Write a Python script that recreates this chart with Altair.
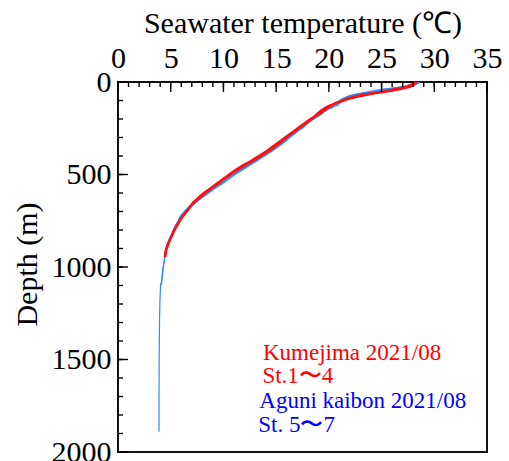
import altair as alt
import pandas as pd

# ---- CTD temperature profiles (depth in m, temperature in degC) ----
red_depth = [0, 10, 25, 40, 50, 62, 75, 90, 100, 115, 125, 140, 150, 175, 200,
             225, 250, 275, 300, 325, 350, 375, 400, 425, 450, 475, 500, 525,
             550, 575, 600, 625, 650, 675, 700, 725, 750, 775, 800, 825, 850,
             875, 900, 925, 945]
kume_st1 = [28.2, 28.1, 27.6, 26.4, 25.6, 24.0, 22.9, 21.8, 21.3, 20.6, 20.2, 19.8,
            19.6, 19.0, 18.3, 17.7, 17.1, 16.5, 15.9, 15.4, 14.8, 14.1, 13.4, 12.7,
            11.9, 11.25, 10.6, 10.0, 9.4, 8.8, 8.2, 7.65, 7.2, 6.85, 6.5, 6.15, 5.85,
            5.6, 5.35, 5.15, 4.95, 4.75, 4.6, 4.5, 4.45]
kume_st2 = [28.4, 28.2, 27.5, 26.0, 25.2, 23.7, 22.6, 21.7, 21.2, 20.7, 20.4, 19.9,
            19.5, 18.9, 18.4, 17.8, 17.2, 16.6, 16.0, 15.5, 14.9, 14.3, 13.6, 12.9,
            12.1, 11.4, 10.7, 10.1, 9.5, 8.9, 8.3, 7.8, 7.3, 6.9, 6.55, 6.2, 5.9,
            5.65, 5.4, 5.2, 5.0, 4.8, 4.65, 4.55, 4.5]
kume_st3 = [28.0, 27.9, 27.4, 26.6, 25.9, 24.4, 23.2, 22.0, 21.5, 20.8, 20.1, 19.6,
            19.7, 19.1, 18.2, 17.6, 17.0, 16.4, 15.8, 15.2, 14.6, 14.0, 13.3, 12.6,
            11.8, 11.1, 10.5, 9.9, 9.3, 8.7, 8.1, 7.6, 7.1, 6.8, 6.45, 6.1, 5.8,
            5.55, 5.3, 5.1, 4.9, 4.7, 4.55, 4.45, 4.4]
kume_st4 = [28.3, 28.2, 27.8, 26.8, 25.4, 24.2, 23.0, 21.9, 21.4, 20.5, 20.3, 19.7,
            19.3, 18.8, 18.3, 17.8, 17.1, 16.5, 15.9, 15.3, 14.7, 14.2, 13.5, 12.8,
            12.0, 11.3, 10.6, 10.0, 9.45, 8.85, 8.25, 7.7, 7.25, 6.85, 6.5, 6.15, 5.85,
            5.6, 5.35, 5.15, 4.95, 4.75, 4.6, 4.5, 4.45]

blue_depth = [0, 10, 25, 40, 50, 62, 75, 90, 100, 115, 125, 140, 150, 175, 200,
              225, 250, 275, 300, 325, 350, 375, 400, 425, 450, 475, 500, 525,
              550, 575, 600, 625, 650, 675, 700, 725, 750, 775, 800, 825, 850,
              875, 900, 925, 950, 1000, 1050, 1080, 1095, 1150, 1200, 1300, 1400,
              1500, 1600, 1700, 1800, 1890]
aguni_st5 = [28.5, 28.3, 27.2, 25.2, 24.2, 23.0, 22.0, 21.5, 21.2, 20.9, 20.6, 20.3,
             19.8, 19.2, 18.5, 17.9, 17.4, 16.8, 16.2, 15.7, 15.1, 14.5, 13.8, 13.1,
             12.4, 11.7, 11.0, 10.4, 9.8, 9.1, 8.5, 7.9, 7.3, 6.8, 6.4, 6.0, 5.75,
             5.5, 5.3, 5.1, 4.9, 4.75, 4.6, 4.5, 4.42, 4.28, 4.18, 4.12, 4.04, 4.0,
             3.97, 3.94, 3.92, 3.9, 3.9, 3.89, 3.89, 3.89]
aguni_st6 = [28.3, 28.1, 27.0, 25.6, 24.6, 23.3, 22.3, 21.6, 21.3, 21.0, 20.9, 20.1,
             19.7, 19.3, 18.6, 17.8, 17.3, 16.9, 16.3, 15.8, 15.2, 14.6, 13.9, 13.2,
             12.5, 11.8, 11.1, 10.5, 9.9, 9.2, 8.6, 8.0, 7.4, 6.9, 6.3, 6.1, 5.8,
             5.55, 5.3, 5.1, 4.9, 4.75, 4.6, 4.5, 4.45, 4.3, 4.2, 4.15, 4.1]
aguni_st7 = [28.6, 28.4, 27.5, 25.0, 24.0, 22.8, 21.9, 21.3, 21.0, 20.6, 20.3, 20.0,
             19.9, 19.1, 18.4, 18.0, 17.5, 16.7, 16.1, 15.6, 15.0, 14.4, 13.7, 13.0,
             12.3, 11.6, 10.9, 10.3, 9.7, 9.0, 8.4, 7.8, 7.2, 6.7, 6.3, 5.9, 5.7,
             5.45, 5.25, 5.05, 4.85, 4.7, 4.55, 4.48, 4.4]

# ---- annotation text ----
note_text = ["Kumejima 2021/08", "St.1〜4", "Aguni kaibon 2021/08", "St. 5〜7"]
note_temp = [13.75, 13.7, 13.4, 13.3]
note_depth = [1502, 1628, 1760, 1890]
note_color = ["#ff0000", "#ff0000", "#0000ff", "#0000ff"]

# ---- axis tick positions ----
x_major = [0, 5, 10, 15, 20, 25, 30, 35]
x_minor = list(range(0, 36))
y_major = [0, 500, 1000, 1500, 2000]
y_minor = list(range(0, 2001, 100))

SERIF = "Liberation Serif"


def profiles(depth, stations):
    rows = []
    for name, temps in stations.items():
        # shallower casts simply stop at their last sample
        for d, t in zip(depth, temps):
            rows.append({"station": name, "depth": d, "temp": t})
    return pd.DataFrame(rows)


red_df = profiles(red_depth, {"St1": kume_st1, "St2": kume_st2,
                              "St3": kume_st3, "St4": kume_st4})
blue_df = profiles(blue_depth, {"St5": aguni_st5, "St6": aguni_st6,
                                "St7": aguni_st7})

x_scale = alt.Scale(domain=[0, 35], nice=False, zero=False)
y_scale = alt.Scale(domain=[0, 2000], reverse=True, nice=False, zero=False)

x_axis = alt.Axis(orient="top", values=x_major, title="Seawater temperature (℃)",
                  format="d",
                  grid=False, domain=False, ticks=False, tickSize=0,
                  labelFont=SERIF, labelFontSize=30, labelColor="black",
                  labelBaseline="alphabetic", labelPadding=14.5, labelFlush=False,
                  labelAngle=0,
                  titleFont=SERIF, titleFontSize=30, titleFontWeight="normal",
                  titleColor="black", titleBaseline="alphabetic",
                  titleX=184.5, titleY=-49.5, titleAlign="center")
y_axis = alt.Axis(orient="left", values=y_major, title="Depth (m)",
                  format="d",
                  grid=False, domain=False, ticks=False, tickSize=0,
                  labelFont=SERIF, labelFontSize=30, labelColor="black",
                  labelPadding=7, labelFlush=False,
                  titleFont=SERIF, titleFontSize=30, titleFontWeight="normal",
                  titleColor="black", titleBaseline="alphabetic", titleAngle=-90,
                  titleX=-82, titleY=182, titleAlign="center")


def X(field):
    return alt.X(field, scale=x_scale, axis=x_axis)


def Y(field):
    return alt.Y(field, scale=y_scale, axis=y_axis)


def line_layer(df, color, width):
    return alt.Chart(df).mark_line(color=color, strokeWidth=width).encode(
        x=X("temp:Q"), y=Y("depth:Q"),
        detail="station:N",
        order="depth:Q",
    )


blue_lines = line_layer(blue_df, "#2a8cff", 1.2)
red_lines = line_layer(red_df, "#ff1010", 1.7)


# inward-pointing ticks on the top and left edges
def x_ticks(values, length):
    return alt.Chart(pd.DataFrame({"temp": values})).mark_rule(
        color="black", strokeWidth=1.4).encode(
        x=X("temp:Q"), y=alt.value(0), y2=alt.value(length))


def y_ticks(values, length):
    return alt.Chart(pd.DataFrame({"depth": values})).mark_rule(
        color="black", strokeWidth=1.4).encode(
        y=Y("depth:Q"), x=alt.value(0), x2=alt.value(length))


notes = alt.Chart(pd.DataFrame({"text": note_text, "temp": note_temp,
                                "depth": note_depth, "color": note_color})
                  ).mark_text(align="left", baseline="alphabetic", font=SERIF,
                              fontSize=23).encode(
    x=X("temp:Q"), y=Y("depth:Q"),
    text="text:N",
    color=alt.Color("color:N", scale=None),
)

chart = alt.layer(
    blue_lines, red_lines,
    x_ticks(x_minor, 5), x_ticks(x_major, 10),
    y_ticks(y_minor, 5), y_ticks(y_major, 10),
    notes,
).properties(
    width=369, height=370,
    autosize=alt.AutoSizeParams(type="none"),
    padding={"left": 118, "top": 82, "right": 22, "bottom": 9},
    background="white",
).configure_view(stroke="#111111", strokeWidth=2)

chart.save("out.html", embed_options={"renderer": "svg", "actions": False})
